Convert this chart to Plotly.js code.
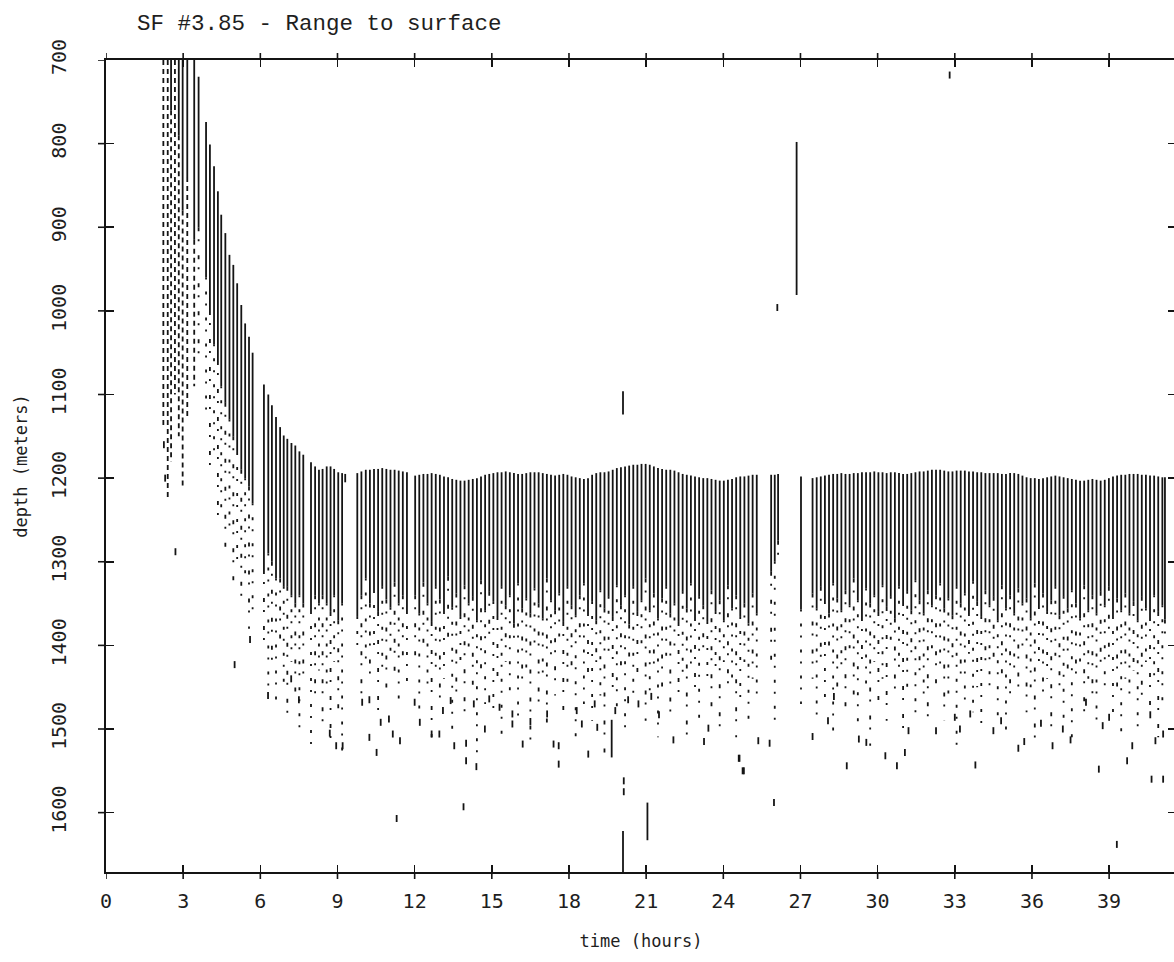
<!DOCTYPE html>
<html>
<head>
<meta charset="utf-8">
<script src="https://cdn.plot.ly/plotly-3.0.1.min.js"></script>
<style>
html,body{margin:0;padding:0;background:#fff;overflow:hidden;width:1174px;height:962px;}
#chart{width:1180px;height:962px;}
</style>
</head>
<body>
<div id="chart"></div>
<script>
// ---------- DATA ----------
const chartTitle = "SF #3.85 - Range to surface";
const xTitle = "time (hours)";
const yTitle = "depth (meters)";
const xTickVals = [0,3,6,9,12,15,18,21,24,27,30,33,36,39];
const yTickVals = [700,800,900,1000,1100,1200,1300,1400,1500,1600];

// each echo: time (h), top of echo (m), end of solid part (m), end of broken tail (m)
const pingTime = [
  2.23,2.40,2.53,2.68,2.83,2.98,3.16,3.43,3.60,3.89,4.04,4.20,4.35,4.48,4.64,4.80,4.95,5.10,5.26,5.41,5.56,5.70,
  6.14,6.31,6.45,6.61,6.77,6.91,7.05,7.21,7.36,7.52,7.67,7.97,8.13,8.28,8.42,8.58,8.73,8.87,9.03,9.18,9.30,
  9.77,9.93,10.10,10.26,10.42,10.58,10.74,10.90,11.06,11.22,11.38,11.54,11.70,
  12.02,12.18,12.34,12.50,12.66,12.82,12.98,13.14,13.30,13.46,13.62,13.78,13.94,14.10,14.26,14.42,
  14.58,14.74,14.90,15.06,15.22,15.38,15.54,15.70,15.86,16.02,16.18,16.34,16.50,16.66,
  16.82,16.98,17.14,17.30,17.46,17.62,17.78,17.94,18.10,18.26,18.42,18.58,18.74,
  18.90,19.06,19.22,19.38,19.54,19.70,19.86,20.02,20.18,20.34,20.50,20.66,20.82,20.98,21.14,21.30,
  21.46,21.62,21.78,21.94,22.10,22.26,22.42,22.58,22.74,22.90,23.06,23.22,23.38,
  23.54,23.70,23.86,24.02,24.18,24.34,24.50,24.66,24.82,24.98,25.14,25.30,
  25.86,26.00,26.13,27.02,
  27.47,27.63,27.79,27.95,28.11,28.27,28.43,28.59,28.75,28.91,29.07,29.23,29.39,29.55,
  29.71,29.87,30.03,30.19,30.35,30.51,30.67,30.83,30.99,31.15,31.31,31.47,31.63,31.79,31.95,
  32.11,32.27,32.43,32.59,32.75,32.91,33.07,33.23,33.39,33.55,33.71,33.87,34.03,34.19,34.35,
  34.51,34.67,34.83,34.99,35.15,35.31,35.47,35.63,35.79,35.95,36.11,36.27,36.43,36.59,36.75,
  36.91,37.07,37.23,37.39,37.55,37.71,37.87,38.03,38.19,38.35,38.51,38.67,38.83,38.99,39.15,
  39.31,39.47,39.63,39.79,39.95,40.11,40.27,40.43,40.59,40.75,40.91,41.07,41.17
];
const pingTop = [
  700,700,700,700,700,700,700,700,720,774,801,827,857,885,907,933,945,967,993,1015,1031,1050,
  1088,1100,1113,1127,1139,1149,1153,1158,1161,1168,1172,1181,1186,1190,1189,1186,1186,1189,1193,1194,1195,
  1194,1192,1190,1190,1189,1189,1188,1189,1190,1190,1191,1192,1193,
  1197,1196,1195,1195,1194,1195,1196,1198,1199,1201,1202,1203,1203,1202,1201,1200,
  1198,1196,1195,1194,1193,1193,1192,1193,1194,1195,1195,1194,1193,1193,
  1193,1194,1195,1196,1197,1196,1195,1196,1198,1199,1200,1201,1200,
  1196,1194,1193,1193,1192,1190,1188,1187,1186,1185,1184,1184,1183,1183,1184,1186,
  1188,1189,1190,1190,1191,1193,1195,1196,1197,1198,1199,1200,1200,
  1201,1202,1203,1203,1202,1201,1199,1198,1198,1197,1196,1196,
  1196,1196,1195,1198,
  1200,1199,1198,1197,1196,1195,1195,1194,1195,1195,1194,1194,1193,1193,
  1193,1192,1193,1193,1194,1193,1193,1194,1195,1195,1194,1193,1192,1192,1191,
  1190,1190,1190,1191,1192,1192,1191,1191,1191,1192,1192,1193,1193,1194,1194,
  1194,1194,1195,1195,1194,1194,1195,1197,1199,1200,1200,1201,1200,1199,1198,
  1197,1198,1199,1200,1201,1202,1203,1203,1202,1201,1202,1203,1202,1200,1198,
  1197,1196,1196,1195,1195,1195,1196,1196,1197,1197,1198,1199,1199
];
const pingBottom = [
  700,700,760,700,790,880,840,915,900,960,1000,1040,1060,1090,1110,1130,1150,1170,1190,1200,1210,1230,
  1310,1290,1300,1320,1320,1330,1330,1340,1350,1340,1350,1360,1340,1350,1340,1350,1360,1340,1370,1350,1205,
  1366,1340,1320,1350,1335,1360,1330,1345,1355,1325,1350,1340,1360,
  1340,1362,1325,1350,1372,1330,1345,1360,1318,1355,1338,1366,1328,1350,1342,1370,
  1322,1358,1336,1348,1365,1330,1352,1340,1374,1326,1356,1344,1362,1332,
  1350,1368,1320,1346,1358,1338,1372,1330,1352,1364,1340,1326,1360,
  1348,1370,1334,1356,1342,1366,1328,1352,1340,1375,1330,1360,1346,1320,1358,1338,
  1368,1344,1330,1362,1350,1372,1336,1356,1326,1366,1342,1352,1372,
  1334,1360,1346,1370,1328,1356,1340,1366,1350,1374,1338,1362,
  1312,1300,1275,1357,
  1338,1356,1330,1348,1362,1326,1344,1358,1334,1352,1320,1346,1366,1332,
  1350,1340,1360,1328,1354,1342,1368,1330,1348,1336,1358,1322,1346,1362,1334,
  1352,1340,1326,1356,1344,1364,1330,1350,1338,1360,1324,1348,1366,1334,1352,
  1342,1370,1328,1356,1340,1362,1332,1350,1344,1368,1326,1354,1338,1360,1346,
  1330,1364,1342,1356,1334,1350,1368,1328,1358,1340,1362,1336,1352,1330,1366,
  1344,1358,1338,1362,1348,1370,1342,1356,1366,1340,1360,1352,1369
];
const pingTail = [
  1140,1225,1180,1100,1150,1210,1130,1090,1060,1120,1200,1180,1250,1240,1290,1260,1330,1300,1350,1320,1380,1360,
  1400,1460,1420,1470,1400,1450,1490,1420,1460,1510,1440,1520,1470,1430,1500,1450,1520,1420,1480,1530,1205,
  1400,1470,1420,1450,1400,1480,1430,1460,1410,1440,1470,1420,1450,
  1420,1480,1400,1450,1510,1430,1470,1440,1390,1500,1460,1420,1490,1410,1450,1530,
  1430,1470,1400,1480,1440,1510,1420,1460,1400,1490,1450,1430,1520,1410,
  1470,1440,1500,1420,1460,1390,1480,1450,1430,1510,1400,1470,1440,
  1490,1420,1460,1530,1410,1450,1480,1430,1500,1420,1470,1440,1400,1490,1460,1430,
  1510,1450,1420,1480,1400,1470,1440,1520,1430,1460,1490,1410,1450,
  1480,1430,1500,1420,1460,1440,1510,1470,1420,1490,1440,1460,
  1420,1500,1300,1470,
  1440,1490,1420,1470,1400,1510,1450,1430,1480,1410,1460,1500,1430,1450,
  1520,1420,1470,1440,1490,1400,1460,1430,1510,1450,1420,1480,1440,1470,1500,
  1410,1450,1430,1490,1460,1420,1520,1440,1470,1410,1480,1450,1500,1430,1460,
  1420,1490,1440,1510,1470,1430,1460,1400,1480,1450,1520,1430,1470,1440,1500,
  1420,1460,1490,1430,1510,1450,1420,1480,1440,1470,1500,1430,1460,1420,1490,
  1450,1510,1440,1470,1430,1500,1460,1420,1480,1450,1510,1470,1400
];

// isolated long echoes
const extraTime   = [20.10, 26.85, 19.66, 20.10, 21.05];
const extraTop    = [1096,  798,   1489,  1622,  1588];
const extraBottom = [1124,  981,   1534,  1671,  1633];

// scattered single returns
const dotTime = [
  2.25,2.30,2.70,5.00,5.60,6.30,7.20,7.50,8.70,8.95,9.20,9.96,10.24,10.24,10.52,10.68,11.00,11.15,11.30,11.43,
  12.00,12.20,12.66,12.96,13.10,13.40,13.54,13.90,14.00,14.00,14.30,14.40,14.73,14.90,15.30,15.80,15.80,16.20,16.50,17.15,
  17.40,17.60,17.60,18.30,18.50,18.75,19.00,19.10,19.80,20.13,20.13,20.30,20.70,21.20,21.50,22.06,23.25,23.42,24.60,24.63,
  24.75,24.80,25.36,25.80,25.97,26.10,27.47,28.07,28.30,28.80,29.27,29.56,30.30,30.75,31.06,31.20,32.27,32.80,33.00,33.20,
  33.60,33.80,34.50,34.80,35.47,35.70,36.35,36.80,37.20,37.50,38.10,38.60,38.75,39.00,39.30,39.70,39.90,40.60,40.65,40.80,
  41.10,41.10
];
const dotDepth = [
  1160,1200,1288,1423,1393,1460,1440,1465,1505,1520,1520,1468,1465,1510,1528,1492,1488,1506,1607,1514,
  1468,1492,1506,1506,1478,1466,1520,1593,1517,1538,1470,1545,1500,1464,1474,1482,1494,1518,1491,1482,
  1518,1520,1542,1478,1494,1530,1470,1498,1478,1562,1575,1465,1470,1461,1483,1513,1515,1499,1535,1535,
  1550,1550,1514,1517,1588,996,1509,1490,1461,1544,1512,1516,1532,1544,1528,1502,1502,718,1486,1500,
  1482,1543,1502,1490,1523,1515,1493,1520,1500,1513,1468,1548,1496,1486,1638,1538,1520,1483,1560,1514,
  1506,1560
];

// ---------- BUILD ----------
function segments(ts, a, b, keep) {
  const x = [], y = [];
  for (let i = 0; i < ts.length; i++) {
    if (keep && !keep(i)) continue;
    if (a[i] === b[i]) continue;
    x.push(ts[i], ts[i], null);
    y.push(a[i], b[i], null);
  }
  return {x, y};
}
const ink = '#141414';
const solid = segments(pingTime, pingTop, pingBottom);
const tailEarly = segments(pingTime, pingBottom, pingTail, i => pingTime[i] < 3.5);
const tailA = segments(pingTime, pingBottom, pingTail, i => pingTime[i] >= 3.5 && i % 2 === 0);
const tailB = segments(pingTime, pingBottom, pingTail, i => pingTime[i] >= 3.5 && i % 2 === 1);
const extra = segments(extraTime, extraTop, extraBottom);

const traces = [
  {type:'scatter', mode:'lines', x:solid.x, y:solid.y, line:{color:ink, width:1.8}, hoverinfo:'skip'},
  {type:'scatter', mode:'lines', x:tailEarly.x, y:tailEarly.y, line:{color:ink, width:1.8, dash:'5px,4px'}, hoverinfo:'skip'},
  {type:'scatter', mode:'lines', x:tailA.x, y:tailA.y, line:{color:ink, width:1.8, dash:'4px,8px,2px,14px'}, hoverinfo:'skip'},
  {type:'scatter', mode:'lines', x:tailB.x, y:tailB.y, line:{color:ink, width:1.8, dash:'2px,12px,3px,9px'}, hoverinfo:'skip'},
  {type:'scatter', mode:'lines', x:extra.x, y:extra.y, line:{color:ink, width:1.8}, hoverinfo:'skip'},
  {type:'scatter', mode:'markers', x:dotTime, y:dotDepth, marker:{symbol:'line-ns', size:5, line:{color:ink, width:1.8}}, hoverinfo:'skip'}
];

// outer halves of the crossing tick marks (inner halves come from the axes)
const tickStyle = {color:ink, width:1.6};
const shapes = [];
xTickVals.forEach(v => {
  shapes.push({type:'line', xref:'x', yref:'paper', ysizemode:'pixel', yanchor:0, x0:v, x1:v, y0:-7, y1:0, line:tickStyle});
  shapes.push({type:'line', xref:'x', yref:'paper', ysizemode:'pixel', yanchor:1, x0:v, x1:v, y0:0, y1:7, line:tickStyle});
});
yTickVals.forEach(v => {
  shapes.push({type:'line', xref:'paper', yref:'y', xsizemode:'pixel', xanchor:0, y0:v, y1:v, x0:-8, x1:0, line:tickStyle});
  shapes.push({type:'line', xref:'paper', yref:'y', xsizemode:'pixel', xanchor:1, y0:v, y1:v, x0:0, x1:8, line:tickStyle});
});

const monoFont = '"DejaVu Sans Mono", "Liberation Mono", monospace';
const textColor = '#1e1e1e';

const layout = {
  width:1180, height:962,
  margin:{l:106, r:4, t:60, b:90},
  paper_bgcolor:'#fff', plot_bgcolor:'#fff',
  showlegend:false,
  shapes: shapes,
  title:{text:chartTitle, x:137/1180, xref:'container', xanchor:'left', y:1-22/962, yref:'container', yanchor:'middle',
         font:{family:'"Liberation Mono", monospace', size:22.5, color:textColor}},
  xaxis:{range:[0, 41.6], tickvals:xTickVals, ticktext:xTickVals.map(String), ticks:'inside', ticklen:7, tickwidth:1.6, tickcolor:ink,
         showline:true, linewidth:1.6, linecolor:ink, mirror:'ticks', showgrid:false, zeroline:false,
         tickfont:{family:monoFont, size:20, color:textColor}, ticklabelstandoff:10,
         title:{text:xTitle, font:{family:monoFont, size:17, color:textColor}, standoff:23}, automargin:false, fixedrange:true},
  yaxis:{range:[1671, 700], tickvals:yTickVals, ticktext:yTickVals.map(String), ticks:'inside', ticklen:8, tickwidth:1.6, tickcolor:ink,
         showline:true, linewidth:1.6, linecolor:ink, mirror:'ticks', showgrid:false, zeroline:false, tickangle:-90,
         tickfont:{family:monoFont, size:20, color:textColor}, ticklabelstandoff:30,
         title:{text:yTitle, font:{family:monoFont, size:17, color:textColor}, standoff:15}, automargin:false, fixedrange:true}
};

Plotly.newPlot('chart', traces, layout, {staticPlot:true, displayModeBar:false});
</script>
</body>
</html>
